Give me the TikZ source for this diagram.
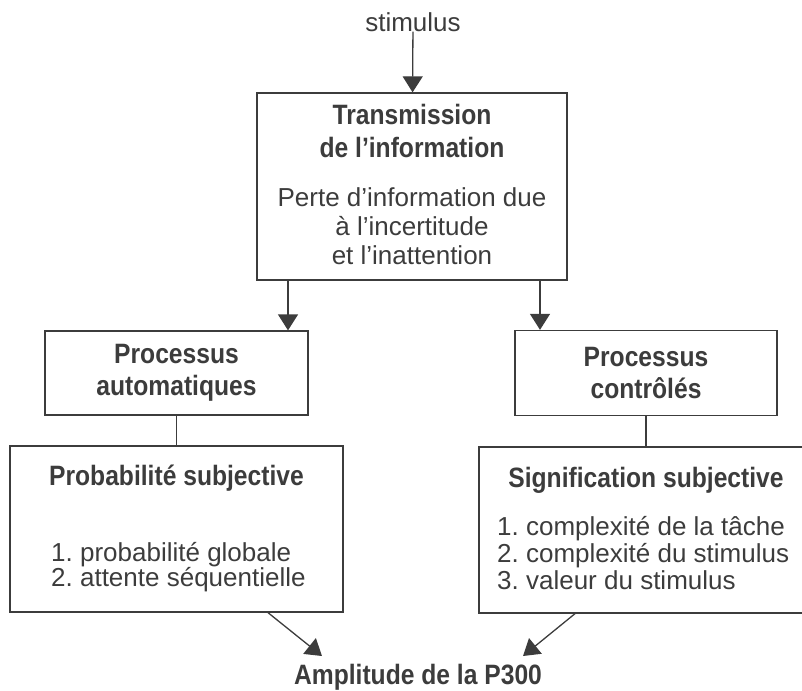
\documentclass[tikz,border=0pt]{standalone}
\usepackage{fontspec}
\setmainfont[BoldFeatures={FakeStretch=0.88}]{Liberation Sans}
\usepackage{tikz}
\usetikzlibrary{arrows.meta,positioning}
\frenchspacing
\definecolor{ink}{HTML}{3C3C3C}
\tikzstyle{box}=[
  draw=ink,
  line width=1.3pt,
  rectangle,
  inner sep=0pt,
]
\tikzstyle{title}=[
  text=ink,
  font={\fontsize{28}{33}\selectfont\bfseries},
  align=center,
  inner sep=0pt,
]
\tikzstyle{txt}=[
  text=ink,
  font={\fontsize{26}{27}\selectfont},
  align=center,
  inner sep=0pt,
]
\tikzstyle{arrow}=[
  draw=ink,
  line width=1.3pt,
  -{Triangle[width=20pt,length=16pt]},
]
\tikzstyle{link}=[
  draw=ink,
  line width=1.3pt,
]
\tikzset{
  x=1pt,
  y=-1pt,
}

\begin{document}
\begin{tikzpicture}
      \useasboundingbox (0,0) rectangle (802,690);
      \node (stimulus) [txt] at (413,22) {stimulus};
      %%
      \node (transmission) [box, minimum width=310, minimum height=187] at (412,186.5) {};
      \node (transtitle) [title] at (412,131) {Transmission\\de l’information};
      \node (transtxt) [txt, font={\fontsize{26}{29}\selectfont}] at (412,226) {Perte d’information due\\à l’incertitude\\et l’inattention};
      %%
      \node (auto) [box, title, font={\fontsize{28}{32}\selectfont\bfseries}, minimum width=263, minimum height=84] at (176.5,373) {Processus\\automatiques};
      \node (ctrl) [box, title, font={\fontsize{28}{32}\selectfont\bfseries}, minimum width=262, minimum height=85] at (646,373) {Processus\\contrôlés};
      %%
      \node (proba) [box, minimum width=333, minimum height=166] at (176.5,529) {};
      \node (probatitle) [title] at (176.5,478) {Probabilité subjective};
      \node (probalist) [txt, font={\fontsize{26}{25}\selectfont}, align=left, anchor=west] at (51,567) {1. probabilité globale\\2. attente séquentielle};
      %%
      \node (signif) [box, minimum width=330, minimum height=166] at (644,530) {};
      \node (signiftitle) [title] at (646,480) {Signification subjective};
      \node (signiflist) [txt, align=left, anchor=west] at (497,553) {1. complexité de la tâche\\2. complexité du stimulus\\3. valeur du stimulus};
      %%
      \node (amplitude) [title] at (418,677) {Amplitude de la P300};
      %%
      \draw [arrow] (stimulus) -- (transmission);
      \draw [arrow] (transmission.south-|288,0) -- (auto.north-|288,0);
      \draw [arrow] (transmission.south-|540,0) -- (ctrl.north-|540,0);
      \draw [link] (auto) -- (auto|-proba.north);
      \draw [link] (ctrl) -- (ctrl|-signif.north);
      \coordinate (A) at (322,656);
      \coordinate (B) at (523,656);
      \draw [arrow] (proba.south-|268,0) -- (A);
      \draw [arrow] (signif.south-|575,0) -- (B);
    \end{tikzpicture}
\end{document}
